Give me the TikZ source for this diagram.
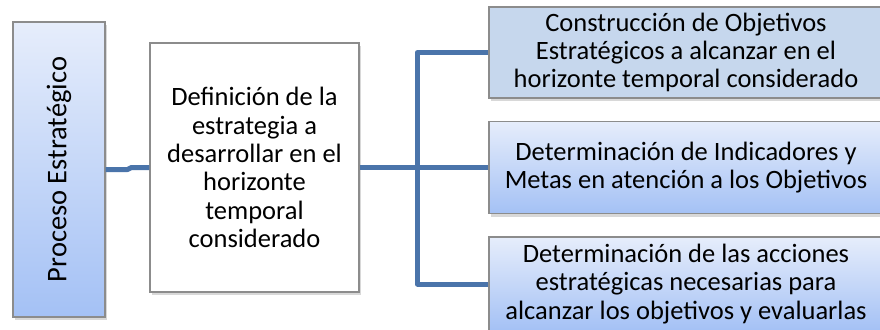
\documentclass[tikz,border=0pt]{standalone}
\usepackage{fontspec}
\setmainfont{Carlito}
\usetikzlibrary{positioning,shadows}

\definecolor{linkblue}{HTML}{4A74AA}
\definecolor{boxedge}{HTML}{8C8C8C}
\definecolor{palesteel}{HTML}{C6D7ED}
\definecolor{gradtop}{HTML}{E6EDFB}
\definecolor{gradbottom}{HTML}{A4C1F5}

\tikzset{
  box/.style={draw=boxedge, line width=1.3pt, align=center, inner sep=0pt,
    font=\fontsize{26.5}{28.3}\selectfont,
    drop shadow={shadow xshift=2pt, shadow yshift=-3pt, opacity=0.3}},
  bluebox/.style={box, top color=gradtop, bottom color=gradbottom},
  link/.style={draw=linkblue, line width=5pt, line join=round}
}

\begin{document}
\begin{tikzpicture}[x=1pt, y=-1pt]
    % Fix the frame
    \clip (0,0) rectangle (880,329);
    \fill[white] (0,0) rectangle (880,329);

    % Draw the boxes
    \node[bluebox, minimum width=92, minimum height=295,
        font=\fontsize{28.5}{30}\selectfont] (proceso) at (59,169.5)
        {\rotatebox{90}{Proceso Estratégico}};
    \node[box, fill=white, minimum width=209, minimum height=249] (definicion) at (254.5,167.5)
        {Definición de la\\estrategia a\\desarrollar en el\\horizonte\\temporal\\considerado};
    \node[box, fill=palesteel, minimum width=394, minimum height=91] (objetivos) at (686,52.5)
        {Construcción de Objetivos\\Estratégicos a alcanzar en el\\horizonte temporal considerado};
    \node[bluebox, minimum width=394, minimum height=92] (indicadores) at (686,167.5)
        {Determinación de Indicadores y\\Metas en atención a los Objetivos};
    \node[bluebox, minimum width=394, minimum height=94] (acciones) at (686,284)
        {Determinación de las acciones\\estratégicas necesarias para\\alcanzar los objetivos y evaluarlas};

    % Draw the connectors
    \draw[link] (proceso.east) -- ++(22,0) -- ([xshift=-18pt]definicion.west) -- (definicion.west);
    \draw[link] (definicion.east) -- (indicadores.west);
    \draw[link] (objetivos.west) -- ++(-71,0) |- (acciones.west);
\end{tikzpicture}
\end{document}
